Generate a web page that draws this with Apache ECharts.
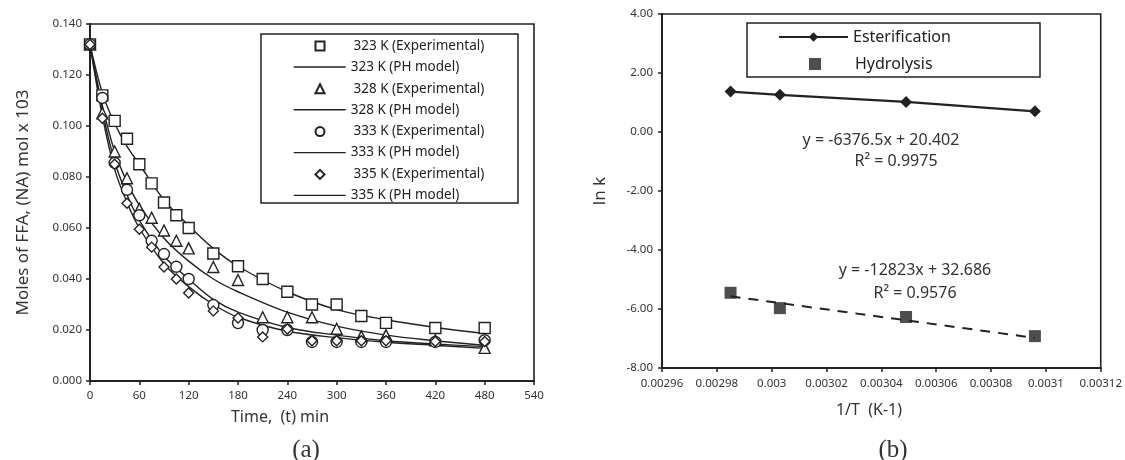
<!DOCTYPE html>
<html>
<head>
<meta charset="utf-8">
<script src="https://cdn.jsdelivr.net/npm/echarts@6/dist/echarts.min.js"></script>
<style>
html,body{margin:0;padding:0;background:#fff;}
#c{width:1125px;height:460px;}
</style>
</head>
<body>
<div id="c"></div>
<script>
// ---------- Data: chart (a) ----------
const expTime = [0, 15, 30, 45, 60, 75, 90, 105, 120, 150, 180, 210, 240, 270, 300, 330, 360, 420, 480];
const exp323 = [0.132, 0.112, 0.102, 0.095, 0.085, 0.0775, 0.070, 0.065, 0.060, 0.050, 0.045, 0.040, 0.035, 0.030, 0.030, 0.0255, 0.0228, 0.0208, 0.0208];
const exp328 = [0.132, 0.105, 0.090, 0.0795, 0.0675, 0.064, 0.059, 0.055, 0.052, 0.0447, 0.0396, 0.025, 0.025, 0.025, 0.0205, 0.0175, 0.018, 0.016, 0.013];
const exp333 = [0.132, 0.111, 0.0855, 0.075, 0.065, 0.055, 0.0498, 0.0448, 0.040, 0.0298, 0.0227, 0.020, 0.020, 0.0153, 0.0153, 0.0153, 0.0153, 0.0153, 0.016];
const exp335 = [0.132, 0.103, 0.085, 0.0697, 0.0595, 0.0525, 0.0447, 0.040, 0.0345, 0.0275, 0.0247, 0.0173, 0.0204, 0.0158, 0.0158, 0.0158, 0.0158, 0.0155, 0.0155];

const modelTime = [0, 15, 30, 45, 60, 90, 120, 150, 180, 240, 300, 360, 420, 480];
const model323 = [0.132, 0.113, 0.101, 0.092, 0.085, 0.071, 0.061, 0.052, 0.045, 0.035, 0.028, 0.024, 0.021, 0.0186];
const model328 = [0.132, 0.108, 0.090, 0.078, 0.069, 0.056, 0.047, 0.040, 0.035, 0.027, 0.0215, 0.018, 0.0158, 0.014];
const model333 = [0.132, 0.106, 0.086, 0.073, 0.063, 0.049, 0.040, 0.032, 0.027, 0.021, 0.018, 0.0158, 0.0145, 0.0135];
const model335 = [0.132, 0.104, 0.083, 0.070, 0.060, 0.046, 0.037, 0.030, 0.025, 0.0195, 0.017, 0.0152, 0.014, 0.0128];

const legendA = ['323 K (Experimental)', '323 K (PH model)', '328 K (Experimental)', '328 K (PH model)',
                 '333 K (Experimental)', '333 K (PH model)', '335 K (Experimental)', '335 K (PH model)'];

// ---------- Data: chart (b) ----------
const invT = [0.002985, 0.003003, 0.003049, 0.003096];
const lnkEster = [1.37, 1.26, 1.02, 0.70];
const lnkHydro = [-5.45, -5.97, -6.27, -6.92];
const trendHydroX = [0.002985, 0.003096];
const trendHydroY = [-5.57, -6.98];
const legendB = ['Esterification', 'Hydrolysis'];
const eqEster = ['y = -6376.5x + 20.402', 'R² = 0.9975'];
const eqHydro = ['y = -12823x + 32.686', 'R² = 0.9576'];

const zip = (xs, ys) => xs.map((x, i) => [x, ys[i]]);

const INK = '#222';
const FONT = 'Noto Sans';
const tickLabel = {color: '#333', fontSize: 11.5, fontFamily: FONT};

function hollow(name, symbol, size, ys) {
  return {
    name, type: 'scatter', xAxisIndex: 0, yAxisIndex: 0,
    symbol, symbolSize: size, symbolKeepAspect: true,
    itemStyle: {color: '#fff', borderColor: INK, borderWidth: 1.4, opacity: 1},
    data: zip(expTime, ys), z: 3
  };
}
function model(name, ys) {
  return {
    name, type: 'line', xAxisIndex: 0, yAxisIndex: 0,
    symbol: 'none', smooth: 0.35,
    lineStyle: {color: INK, width: 1.4},
    itemStyle: {color: INK},
    data: zip(modelTime, ys), z: 2
  };
}

const legA_text = {color: '#222', fontSize: 13.5, fontFamily: FONT, lineHeight: 14};
const legB_text = {color: '#222', fontSize: 16, fontFamily: FONT, lineHeight: 18};
const eqFont = '16px "Noto Sans"';
const titleFont = '16px "Noto Sans"';

const chart = echarts.init(document.getElementById('c'), null, {renderer: 'canvas'});
chart.setOption({
  animation: false,
  backgroundColor: '#fff',
  grid: [
    {left: 90, top: 24, width: 444, height: 357, show: true, borderColor: INK, borderWidth: 1.6},
    {left: 662, top: 14, width: 440, height: 354, show: true, borderColor: INK, borderWidth: 1.6}
  ],
  xAxis: [
    {
      gridIndex: 0, type: 'value', min: 0, max: 540, interval: 60,
      axisLine: {onZero: false, lineStyle: {color: INK, width: 2}},
      axisTick: {show: true, length: 4, lineStyle: {color: INK, width: 1.5}},
      axisLabel: Object.assign({margin: 9}, tickLabel),
      splitLine: {show: false}
    },
    {
      gridIndex: 1, type: 'value', min: 0.00296, max: 0.00312, interval: 0.00002,
      axisLine: {onZero: false, lineStyle: {color: INK, width: 2}},
      axisTick: {show: true, length: 4, lineStyle: {color: INK, width: 1.5}},
      axisLabel: Object.assign({margin: 10, formatter: v => String(parseFloat(v.toFixed(5)))}, tickLabel),
      splitLine: {show: false}
    }
  ],
  yAxis: [
    {
      gridIndex: 0, type: 'value', min: 0, max: 0.14, interval: 0.02,
      axisLine: {onZero: false, lineStyle: {color: INK, width: 2}},
      axisTick: {show: true, length: 4, lineStyle: {color: INK, width: 1.5}},
      axisLabel: Object.assign({margin: 8, formatter: v => v.toFixed(3)}, tickLabel),
      splitLine: {show: false},
      name: 'Moles of FFA, (NA) mol x 103', nameLocation: 'middle', nameGap: 58,
      nameTextStyle: {color: '#333', fontSize: 17, fontFamily: FONT}
    },
    {
      gridIndex: 1, type: 'value', min: -8, max: 4, interval: 2,
      axisLine: {onZero: false, lineStyle: {color: INK, width: 2}},
      axisTick: {show: true, length: 4, lineStyle: {color: INK, width: 1.5}},
      axisLabel: Object.assign({margin: 9, formatter: v => v.toFixed(2)}, tickLabel),
      splitLine: {show: false},
      name: 'ln k', nameLocation: 'middle', nameGap: 53,
      nameTextStyle: {color: '#333', fontSize: 17, fontFamily: FONT}
    }
  ],
  legend: [
    { // experimental markers (rows 1,3,5,7)
      data: [legendA[0], legendA[2], legendA[4], legendA[6]], orient: 'vertical',
      left: 314.5, top: 39, padding: 0,
      itemWidth: 9, itemHeight: 9, itemGap: 28.8,
      textStyle: Object.assign({padding: [0, 0, 0, 24]}, legA_text),
      selectedMode: false
    },
    { // model lines (rows 2,4,6,8)
      data: [legendA[1], legendA[3], legendA[5], legendA[7]], orient: 'vertical',
      left: 293, top: 60, padding: 0,
      itemWidth: 52, itemHeight: 9, itemGap: 28.8,
      itemStyle: {opacity: 0},
      lineStyle: {width: 1.4},
      textStyle: legA_text,
      selectedMode: false
    },
    {
      data: [legendB[0]], orient: 'vertical', left: 778, top: 28, padding: 0,
      itemWidth: 69, itemHeight: 12,
      textStyle: legB_text, selectedMode: false
    },
    {
      data: [legendB[1]], orient: 'vertical', left: 809, top: 55, padding: 0,
      itemWidth: 12, itemHeight: 12,
      textStyle: Object.assign({padding: [0, 0, 0, 29]}, legB_text), selectedMode: false
    }
  ],
  series: [
    hollow(legendA[0], 'rect', 11, exp323),
    model(legendA[1], model323),
    hollow(legendA[2], 'triangle', 11, exp328),
    model(legendA[3], model328),
    hollow(legendA[4], 'circle', 11, exp333),
    model(legendA[5], model333),
    hollow(legendA[6], 'diamond', 10, exp335),
    model(legendA[7], model335),
    {
      name: legendB[0], type: 'line', xAxisIndex: 1, yAxisIndex: 1,
      symbol: 'diamond', symbolSize: 12, showSymbol: true,
      lineStyle: {color: INK, width: 2.2}, itemStyle: {color: INK},
      data: zip(invT, lnkEster), z: 3
    },
    {
      name: legendB[1], type: 'scatter', xAxisIndex: 1, yAxisIndex: 1,
      symbol: 'rect', symbolSize: 12, symbolKeepAspect: true,
      itemStyle: {color: INK},
      data: zip(invT, lnkHydro), z: 3
    },
    {
      name: 'Hydrolysis trend', type: 'line', xAxisIndex: 1, yAxisIndex: 1,
      symbol: 'none',
      lineStyle: {color: INK, width: 2, type: [10, 8]},
      data: zip(trendHydroX, trendHydroY), z: 2
    }
  ],
  graphic: [
    {type: 'rect', shape: {x: 261, y: 34, width: 257, height: 169}, style: {fill: 'none', stroke: INK, lineWidth: 1.5}, z: 1},
    {type: 'rect', shape: {x: 747, y: 23, width: 293, height: 54}, style: {fill: 'none', stroke: INK, lineWidth: 1.5}, z: 1},
    {type: 'text', x: 280, y: 417, style: {text: 'Time,  (t) min', fill: '#333', font: titleFont, textAlign: 'center', textVerticalAlign: 'middle'}},
    {type: 'text', x: 869, y: 410, style: {text: '1/T  (K-1)', fill: '#333', font: titleFont, textAlign: 'center', textVerticalAlign: 'middle'}},
    {type: 'text', x: 306, y: 450, style: {text: '(a)', fill: '#333', font: '25px "Liberation Serif"', textAlign: 'center', textVerticalAlign: 'middle'}},
    {type: 'text', x: 893, y: 450, style: {text: '(b)', fill: '#333', font: '25px "Liberation Serif"', textAlign: 'center', textVerticalAlign: 'middle'}},
    {type: 'text', x: 881, y: 140, style: {text: eqEster[0], fill: '#333', font: eqFont, textAlign: 'center', textVerticalAlign: 'middle'}},
    {type: 'text', x: 896, y: 161, style: {text: eqEster[1], fill: '#333', font: eqFont, textAlign: 'center', textVerticalAlign: 'middle'}},
    {type: 'text', x: 915, y: 270, style: {text: eqHydro[0], fill: '#333', font: eqFont, textAlign: 'center', textVerticalAlign: 'middle'}},
    {type: 'text', x: 915, y: 293, style: {text: eqHydro[1], fill: '#333', font: eqFont, textAlign: 'center', textVerticalAlign: 'middle'}}
  ]
});
</script>
</body>
</html>
